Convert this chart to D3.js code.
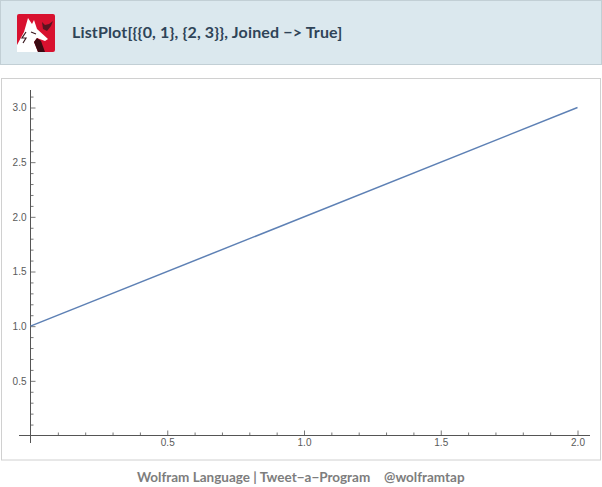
<!DOCTYPE html>
<html><head><meta charset="utf-8">
<script src="https://cdn.jsdelivr.net/npm/d3@7/dist/d3.min.js"></script>
<style>html,body{margin:0;padding:0;background:#fff;overflow:hidden}svg{display:block}</style>
</head><body><svg id="c" width="602" height="487"></svg>
<script>
const seriesX = [0, 2];
const seriesY = [1, 3];
const xMajor = [0.5, 1.0, 1.5, 2.0];
const yMajor = [0.5, 1.0, 1.5, 2.0, 2.5, 3.0];
const xMinor = [0.1,0.2,0.3,0.4,0.6,0.7,0.8,0.9,1.1,1.2,1.3,1.4,1.6,1.7,1.8,1.9];
const yMinor = [0.1,0.2,0.3,0.4,0.6,0.7,0.8,0.9,1.1,1.2,1.3,1.4,1.6,1.7,1.8,1.9,2.1,2.2,2.3,2.4,2.6,2.7,2.8,2.9,3.1];
const titleText = "ListPlot[{{0, 1}, {2, 3}}, Joined \u2212> True]";
const footerLeft = "Wolfram Language | Tweet\u2212a\u2212Program";
const footerRight = "@wolframtap";

const svg = d3.select("#c");
const x = d3.scaleLinear().domain([0, 2]).range([30.5, 577.5]);
const y = d3.scaleLinear().domain([0, 3]).range([435.5, 107.5]);

// header
svg.append("rect").attr("x",0.5).attr("y",0.5).attr("width",601).attr("height",64)
  .attr("fill","#dbe8ee").attr("stroke","#c2cfd5");
// logo
const logo = svg.append("g").attr("transform","translate(17,14)");
logo.append("rect").attr("width",38).attr("height",38).attr("rx",2).attr("fill","#d8112f");
logo.append("path").attr("d","M0 38V31L7 18L11 4L15 10L17 6L20 15L31 25L28 27L20 24L17 28L21 38Z").attr("fill","#fff");
logo.append("path").attr("d","M21 38L17 28L20 24L24 27L28 38Z").attr("fill","#3a0a12");
logo.append("path").attr("d","M9 18L5 24L9 24L6 29M14 18L19 20").attr("fill","none").attr("stroke","#3a1a20").attr("stroke-width",1.2);
logo.append("path").attr("d","M25 8L28 11L32 10L36 7L34 12L30 17L26 15Z").attr("fill","#5b1420");
svg.append("text").attr("x",72).attr("y",37.5).text(titleText)
  .attr("font-family","Lato").attr("font-weight",700).attr("font-size",16).attr("letter-spacing",0.15).attr("fill","#2f4458");

// panel
svg.append("rect").attr("x",1.5).attr("y",78.5).attr("width",599).attr("height",381.5)
  .attr("fill","#fff").attr("stroke","#d0d0d0");

const ax = "#555";
const g = svg.append("g");
const xAxis = g.append("g").attr("transform","translate(0,435.5)");
xAxis.call(d3.axisTop(x).tickValues(xMinor).tickSize(3).tickFormat(""));
xAxis.select(".domain").remove();
const xAxis2 = g.append("g").attr("transform","translate(0,435.5)");
xAxis2.call(d3.axisTop(x).tickValues(xMajor).tickSize(5).tickFormat(""));
xAxis2.select(".domain").remove();
const xLabels = g.append("g").attr("transform","translate(0,435.5)");
xLabels.call(d3.axisBottom(x).tickValues(xMajor).tickSize(0).tickPadding(3).tickFormat(d3.format(".1f")));
xLabels.select(".domain").remove();
const yAxis = g.append("g").attr("transform","translate(30.5,0)");
yAxis.call(d3.axisRight(y).tickValues(yMinor).tickSize(3).tickFormat(""));
yAxis.select(".domain").remove();
const yAxis2 = g.append("g").attr("transform","translate(30.5,0)");
yAxis2.call(d3.axisRight(y).tickValues(yMajor).tickSize(5).tickFormat(""));
yAxis2.select(".domain").remove();
const yLabels = g.append("g").attr("transform","translate(30.5,0)");
yLabels.call(d3.axisLeft(y).tickValues(yMajor).tickSize(0).tickPadding(4).tickFormat(d3.format(".1f")));
yLabels.select(".domain").remove();
g.selectAll("line").attr("stroke",ax).attr("stroke-width",0.8);
g.selectAll("text").attr("font-family","Liberation Sans").attr("font-size",10).attr("fill","#5a5a5a");
g.append("line").attr("x1",19).attr("x2",590).attr("y1",435.5).attr("y2",435.5).attr("stroke",ax);
g.append("line").attr("x1",30.5).attr("x2",30.5).attr("y1",90).attr("y2",443).attr("stroke",ax);

// data line
const pts = seriesX.map((d,i)=>[d,seriesY[i]]);
svg.append("path").attr("d",d3.line().x(d=>x(d[0])).y(d=>y(d[1]))(pts))
  .attr("fill","none").attr("stroke","#5e81b5").attr("stroke-width",1.5);

// footer
const ft = {"font-family":"Lato","font-weight":700,"font-size":13.5,"fill":"#7d7d7d"};
const f1 = svg.append("text").attr("x",137).attr("y",482).text(footerLeft);
const f2 = svg.append("text").attr("x",384).attr("y",482).text(footerRight);
[f1,f2].forEach(t=>Object.entries(ft).forEach(([k,v])=>t.attr(k,v)));
</script></body></html>
